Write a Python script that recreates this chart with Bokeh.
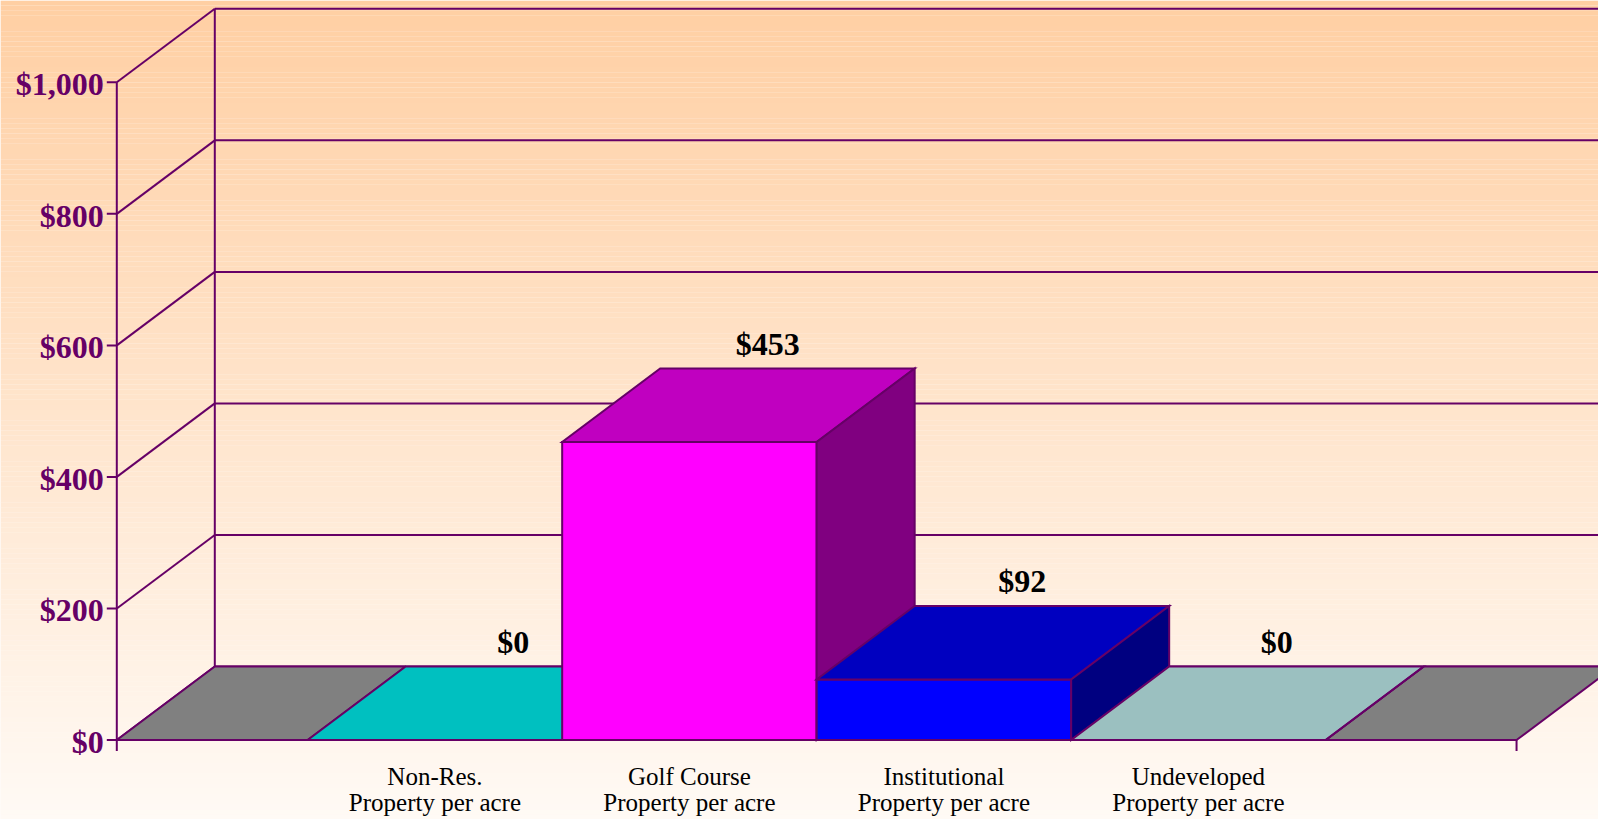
import numpy as np
from bokeh.plotting import figure
from bokeh.models import Range1d
from bokeh.core.properties import value
from bokeh.embed import file_html
from bokeh.resources import INLINE

# ---------------- data ----------------
categories = ["Non-Res.\nProperty per acre", "Golf Course\nProperty per acre",
              "Institutional\nProperty per acre", "Undeveloped\nProperty per acre"]
values = [0, 453, 92, 0]
front_colors = ["#00FFFF", "#FF00FF", "#0000FF", "#CCFFFF"]
top_colors = ["#00C0C0", "#C000C0", "#0000C0", "#9BC0C0"]
side_colors = ["#008080", "#800080", "#000080", "#668080"]
y_ticks = [0, 200, 400, 600, 800, 1000]
y_tick_labels = ["$0", "$200", "$400", "$600", "$800", "$1,000"]

# ---------------- layout ----------------
W, H = 1598, 819
AX_PX = 116.3          # front axis, px from left of figure
UNIT_PX = 254.5        # px per category slot
ZERO_PX = 739.5        # $0 line, px from top
PPD = 0.6577           # px per dollar
X_AX = -0.25           # front axis in category units
X_END = 5.25
DX = 98.0 / UNIT_PX    # depth offset (category units)
DY = 73.5 / PPD        # depth offset (dollars)

x0 = X_AX - AX_PX / UNIT_PX
y0 = -(H - ZERO_PX) / PPD
p = figure(width=W, height=H,
           x_range=Range1d(x0, x0 + W / UNIT_PX),
           y_range=Range1d(y0, y0 + H / PPD),
           output_backend="svg", toolbar_location=None,
           min_border=0, x_axis_type=None, y_axis_type=None)
p.grid.visible = False
p.outline_line_color = None
p.background_fill_color = "#FFF8F2"
p.border_fill_color = "#FFF8F2"

# background gradient
N = 160
yr0, yr1 = p.y_range.start, p.y_range.end
edges = np.linspace(yr0, yr1, N + 1)
top_c = np.array([255, 207, 163])
bot_c = np.array([255, 250, 245])
cols = []
for k in range(N):
    t = (k + 0.5) / N  # 0 bottom -> 1 top
    c = bot_c + (top_c - bot_c) * t
    cols.append("#%02x%02x%02x" % tuple(int(round(v)) for v in c))
p.quad(left=p.x_range.start, right=p.x_range.end, bottom=edges[:-1], top=edges[1:],
       fill_color=cols, line_color=None)

LC = "#660066"
LW = 2

# back wall grid lines
bx = X_AX + DX
p.segment(x0=[bx] * len(y_ticks), y0=[t + DY for t in y_ticks],
          x1=[X_END + DX + 1] * len(y_ticks), y1=[t + DY for t in y_ticks],
          line_color=LC, line_width=LW)
# side wall diagonals
p.segment(x0=[X_AX] * len(y_ticks), y0=y_ticks,
          x1=[bx] * len(y_ticks), y1=[t + DY for t in y_ticks],
          line_color=LC, line_width=LW)
# back vertical edge & front axis
p.segment(x0=[bx, X_AX], y0=[DY, 0], x1=[bx, X_AX], y1=[y_ticks[-1] + DY, y_ticks[-1]],
          line_color=LC, line_width=LW)
# ticks on value axis
tick_len = 10.0 / UNIT_PX
p.segment(x0=[X_AX - tick_len] * len(y_ticks), y0=y_ticks, x1=[X_AX] * len(y_ticks), y1=y_ticks,
          line_color=LC, line_width=LW)
# bottom end ticks
p.segment(x0=[X_AX, X_END], y0=[0, 0], x1=[X_AX, X_END], y1=[-11 / PPD, -11 / PPD],
          line_color=LC, line_width=LW)

# floor end strips (gray)
n = len(values)
first_left = 0.5
last_right = 0.5 + n
p.patches(xs=[[X_AX, first_left, first_left + DX, X_AX + DX],
              [last_right, X_END, X_END + DX, last_right + DX]],
          ys=[[0, 0, DY, DY], [0, 0, DY, DY]],
          fill_color="#808080", line_color=LC, line_width=LW)

# bars (per bar: front, top, side) drawn left to right
xs, ys, fc = [], [], []
for i, v in enumerate(values):
    l = 0.5 + i
    r = l + 1.0
    xs += [[l, r, r, l],
           [l, r, r + DX, l + DX],
           [r, r + DX, r + DX, r]]
    ys += [[0, 0, v, v],
           [v, v, v + DY, v + DY],
           [0, DY, v + DY, v]]
    fc += [front_colors[i], top_colors[i], side_colors[i]]
p.patches(xs=xs, ys=ys, fill_color=fc, line_color=LC, line_width=LW, line_join="miter")

# value labels
centers = [1.0 + i for i in range(n)]
p.text(x=[c + 0.8 * DX for c in centers], y=[v + DY for v in values],
       text=["$%s" % format(v, ",") for v in values],
       text_font=value("Liberation Serif"), text_font_style="bold",
       text_font_size="32px", text_color="#000000",
       text_align="center", text_baseline="middle", y_offset=-25)

# tick labels
p.text(x=[X_AX] * len(y_ticks), y=y_ticks, text=y_tick_labels,
       text_font=value("Liberation Serif"), text_font_style="bold",
       text_font_size="32px", text_color=LC,
       text_align="right", text_baseline="middle", x_offset=-13, y_offset=2)

# category labels (two lines)
line1 = [c.split("\n")[0] for c in categories]
line2 = [c.split("\n")[1] for c in categories]
p.text(x=centers, y=[0] * n, text=line1,
       text_font=value("Liberation Serif"), text_font_size="25px", text_color="#000000",
       text_align="center", text_baseline="middle", y_offset=36)
p.text(x=centers, y=[0] * n, text=line2,
       text_font=value("Liberation Serif"), text_font_size="25px", text_color="#000000",
       text_align="center", text_baseline="middle", y_offset=62)

open("out.html", "w").write(file_html(p, INLINE))
